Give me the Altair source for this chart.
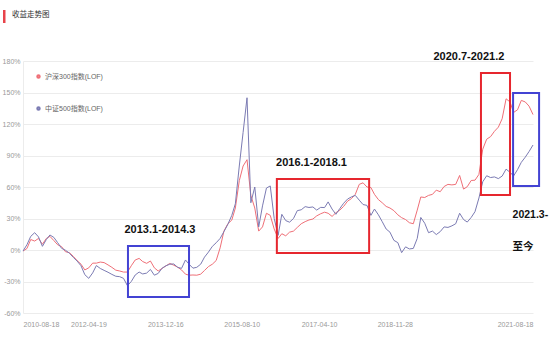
import altair as alt
import pandas as pd

# ---------------- data ----------------
series_names = ["沪深300指数(LOF)", "中证500指数(LOF)"]
series_colors = ["#ef6f77", "#7b7bb3"]

# monthly readings (percent) from 2010-08-18 to 2021-08-18
hs300 = [-1, 1.4, 10, 8.5, 11, 5.5, 11, 13, 9, 5, 3.2, -1.6, -2.5, -6, -10, -13.5,
         -19, -17, -12.5, -12.5, -11.5, -12, -14.2, -16.5, -19.2, -20, -21, -21,
         -15, -9.5, -8, -11, -12.7, -10.5, -17, -20, -17.5, -15, -12.8, -14.5,
         -16.3, -19, -23, -24, -23.8, -24, -23, -19.5, -15.8, -13.5, -10, 2, 18,
         25, 28.5, 40, 66, 80, 86, 52, 40, 18, 22, 35, 33, 20, 11, 15.5, 13.5, 17,
         18, 21.5, 25, 27, 28.6, 29.5, 32.5, 34.5, 36, 35, 32, 35.5, 38, 41.5,
         46.5, 49, 53, 62.5, 64, 60, 59.5, 53, 48, 45, 41.5, 40, 37.5, 33.5, 30.8,
         29, 26, 25, 38, 50.5, 50, 52, 53, 57, 55.5, 60.5, 62.5, 62, 62.5, 71, 58,
         60.3, 66.2, 66.5, 72, 96, 105.5, 108, 113, 117, 125, 144, 141, 131, 133.5,
         142.5, 141, 137, 129]
zz500 = [-1, 5, 13, 16.5, 12.5, 3.5, 10, 14.3, 12, 7, 1.6, -0.2, -3, -7, -10.5,
         -15, -23.5, -27, -21.8, -14.8, -17.6, -19.4, -21.2, -23.2, -25, -25.4,
         -27, -34, -30, -23.8, -21, -22.8, -22, -18.5, -24, -22.3, -17.3, -15,
         -13.5, -13.3, -16.5, -17.5, -9.5, -13.5, -17.3, -16.5, -13.5, -6.8, -2,
         3.5, 6.9, 11, 17.5, 24.5, 33, 44, 80, 112, 145, 45, 60, 22, 42, 59, 61, 30,
         14, 34, 28, 26.5, 30, 37.5, 38.3, 41.3, 40.5, 41, 38, 40.6, 40.4, 45.8, 39,
         34, 39.5, 44.5, 48.5, 50.6, 52, 47.5, 43.3, 42.5, 33, 39, 33.5, 27, 20, 17,
         9.2, 7, -2.5, 3, 1, 1.5, 11, 31, 25.5, 16.5, 18, 14.7, 17.5, 22, 21.5, 23,
         25, 35, 29, 26.6, 31, 36.5, 49.5, 65, 70.7, 69, 69.6, 68, 70.4, 77, 74,
         70.5, 76.5, 83.5, 88.4, 93.8, 100]

x_tick_dates = ["2010-08-18", "2012-04-19", "2013-12-16", "2015-08-10",
                "2017-04-10", "2018-11-28", "2021-08-18"]
y_ticks = [-60, -30, 0, 30, 60, 90, 120, 150, 180]

# highlighted periods
box_start = ["2012-11-22", "2016-02-08", "2020-07-04", "2021-03-14"]
box_end = ["2014-03-18", "2018-02-04", "2021-02-18", "2021-10-05"]
box_top = [3.8, 67.6, 168.6, 149.5]
box_bottom = [-44.8, -2.9, 52.4, 61]
box_kind = ["blue", "red", "red", "blue"]

# annotation labels (centered)
note_text = ["2013.1-2014.3", "2016.1-2018.1", "2020.7-2021.2"]
note_date = ["2013-08-01", "2016-11-07", "2020-03-31"]
note_value = [19, 83.3, 183.8]
# annotation labels (left aligned)
side_text = ["2021.3-", "至今"]
side_date = ["2021-03-10", "2021-03-10"]
side_value = [33.3, 2.9]

# ---------------- tables ----------------
dates = pd.date_range("2010-08-18", periods=len(hs300), freq=pd.DateOffset(months=1))
date_str = [d.strftime("%Y-%m-%dT00:00:00") for d in dates]
df = pd.concat([
    pd.DataFrame({"date": date_str, "value": hs300, "series": series_names[0]}),
    pd.DataFrame({"date": date_str, "value": zz500, "series": series_names[1]}),
])
boxes = pd.DataFrame({
    "date": [s + "T00:00:00" for s in box_start],
    "date2": [s + "T00:00:00" for s in box_end],
    "value": box_top, "value2": box_bottom, "kind": box_kind,
})
notes = pd.DataFrame({"date": [s + "T00:00:00" for s in note_date],
                      "value": note_value, "text": note_text})
sides = pd.DataFrame({"date": [s + "T00:00:00" for s in side_date],
                      "value": side_value, "text": side_text})


def dt(s):
    y, m, d = s.split("-")
    return alt.DateTime(year=int(y), month=int(m), date=int(d))


LAT = "Liberation Sans, Arial, sans-serif"
CJK = "Liberation Sans, Noto Sans CJK SC, sans-serif"

x_scale = alt.Scale(domain=[dt(x_tick_dates[0]), dt(x_tick_dates[-1])], nice=False)
y_scale = alt.Scale(domain=[-60, 180], nice=False, zero=False)

x_axis = alt.Axis(
    values=[dt(s) for s in x_tick_dates], format="%Y-%m-%d", title=None,
    grid=False, domain=False, ticks=False, labelPadding=7, labelFlush=True,
    labelOverlap=False, labelFont=LAT, labelFontSize=7, labelColor="#999999",
    labelOffset={"condition": {"test": "datum.index > 0 && datum.index < 1", "value": -12},
                 "value": 0},
)
y_axis = alt.Axis(
    values=y_ticks, labelExpr="datum.value + '%'", title=None, grid=True,
    gridColor="#ececec", domain=True, domainColor="#ececec", ticks=False,
    labelOverlap=False, labelPadding=3, labelFont=LAT, labelFontSize=7,
    labelColor="#999999",
)
X = alt.X("date:T", scale=x_scale, axis=x_axis)
Y = alt.Y("value:Q", scale=y_scale, axis=y_axis)

lines = alt.Chart(df).mark_line(strokeWidth=1).encode(
    x=X, y=Y,
    color=alt.Color(
        "series:N",
        scale=alt.Scale(domain=series_names, range=series_colors),
        sort=series_names,
        legend=alt.Legend(
            orient="none", legendX=12, legendY=12, title=None, symbolType="circle",
            symbolSize=6, symbolStrokeWidth=2, rowPadding=21, padding=0, labelOffset=3,
            labelFont=CJK, labelFontSize=7, labelColor="#666666",
        ),
    ),
)

rects = alt.Chart(boxes).mark_rect(fillOpacity=0, strokeWidth=2).encode(
    x=X, x2="date2:T", y=Y, y2="value2:Q",
    stroke=alt.Stroke("kind:N", scale=alt.Scale(domain=["red", "blue"],
                                                range=["#e6262e", "#4343d3"]),
                      legend=None),
)

note_layer = alt.Chart(notes).mark_text(
    align="center", baseline="middle", font=LAT, fontSize=11,
    fontWeight="bold", color="#111111",
).encode(x=X, y=Y, text="text:N")

side_layer = alt.Chart(sides).mark_text(
    align="left", baseline="middle", font="Liberation Sans, Noto Sans CJK SC, sans-serif",
    fontSize=10.5, fontWeight="bold", color="#111111",
).encode(x=X, y=Y, text="text:N")

header = pd.DataFrame({"t": ["收益走势图"]})
title_bar = alt.Chart(header).mark_rect(color="#e8434a").encode(
    x=alt.value(-20), x2=alt.value(-17.5), y=alt.value(-51), y2=alt.value(-38))
title_text = alt.Chart(header).mark_text(
    align="left", baseline="middle", font="Noto Sans CJK SC", fontSize=7.5,
    color="#333333").encode(x=alt.value(-11), y=alt.value(-46), text="t:N")

chart = alt.layer(lines, rects, note_layer, side_layer, title_bar, title_text).properties(
    width=510, height=252,
    autosize=alt.AutoSizeParams(type="none"),
    padding={"left": 23, "top": 61, "right": 17, "bottom": 30},
    background="white",
).configure_view(strokeWidth=0)

chart.save("out.html", embed_options={"renderer": "svg", "actions": False})
